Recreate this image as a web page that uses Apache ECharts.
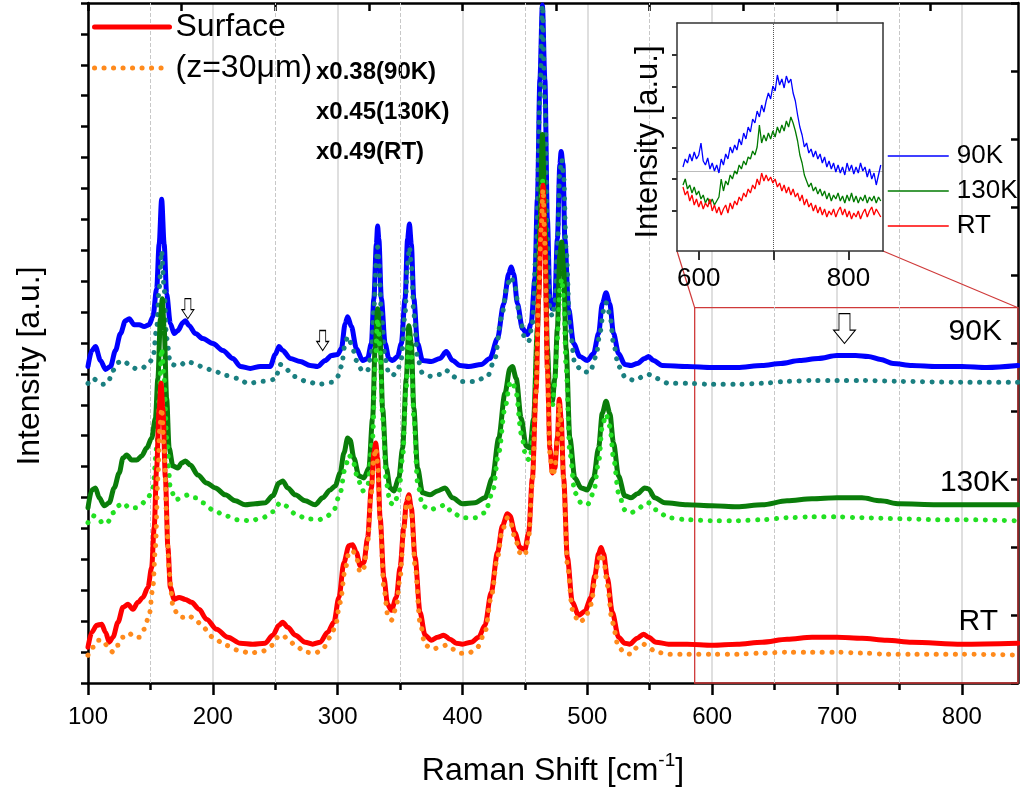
<!DOCTYPE html>
<html>
<head>
<meta charset="utf-8">
<title>Raman spectra</title>
<script src="https://cdn.jsdelivr.net/npm/echarts@6/dist/echarts.min.js"></script>
<style>
  html, body { margin: 0; padding: 0; background: #fff; }
  #main { width: 1020px; height: 792px; }
</style>
</head>
<body>
<div id="main"></div>
<script>
// Raman spectra, intensity in a.u. (stacked offsets as in the figure)
var surface90K = [[100,318],[103,334],[106,338],[110,324],[114,315],[118,318],[122,334],[126,351],[130,364],[133,366],[137,360],[141,360],[145,358],[149,360],[152,368],[155,396],[157,441],[159,486],[161,441],[163,391],[166,361],[169,351],[172,354],[176,362],[178,364],[181,359],[186,351],[192,346],[200,341],[208,334],[216,326],[222,318],[230,316],[238,318],[246,318],[250,330],[253,338],[256,334],[262,326],[270,323],[278,319],[284,318],[290,324],[295,329],[300,330],[303,336],[306,361],[308,368],[311,358],[315,336],[320,324],[324,326],[327,341],[329,386],[331,441],[332,459],[333,446],[335,386],[338,341],[341,326],[344,324],[348,328],[351,341],[354,386],[356,446],[357.5,461],[359,441],[361,386],[364,341],[368,324],[375,323],[382,326],[387,333],[392,324],[398,319],[405,318],[415,320],[422,326],[428,346],[433,381],[437,411],[439,418],[441,411],[444,381],[448,356],[452,350],[455,361],[458,406],[460,486],[462,606],[464,681],[466,606],[468,466],[470,386],[472,376],[474,386],[476,446],[478,521],[479,534],[480.5,521],[482,446],[485,376],[489,341],[494,328],[500,324],[505,331],[509,351],[512,381],[515,392],[518,381],[521,351],[525,331],[530,320],[535,319],[540,321],[546,326],[549,328],[553,324],[560,319],[580,318],[600,317],[620,317],[640,319],[655,321],[670,324],[685,326],[700,329],[715,329],[725,328],[735,325],[745,321],[760,319],[780,318],[800,318],[820,317],[845,319]];
var depth90K = [[100,301],[104,306],[108,303],[112,300],[116,302],[120,314],[124,322],[128,324],[133,320],[138,316],[143,316],[148,320],[152,326],[155,356],[157,396],[159,434],[161,396],[163,346],[166,321],[170,319],[175,320],[178,323],[182,322],[188,319],[194,316],[200,314],[210,309],[220,306],[228,301],[240,303],[250,305],[254,320],[258,316],[265,308],[275,303],[285,300],[295,302],[300,308],[303,318],[306,341],[308,348],[311,341],[315,324],[320,313],[324,314],[327,331],[329,376],[331,426],[332,438],[333,426],[335,371],[338,326],[341,311],[344,309],[348,314],[351,326],[354,371],[356,421],[357.5,438],[359,421],[361,371],[364,326],[368,311],[375,308],[382,310],[387,314],[392,308],[400,303],[410,303],[420,308],[426,326],[431,366],[436,401],[439,408],[442,398],[446,366],[450,346],[453,343],[456,361],[459,436],[462,586],[464,681],[466,586],[468,446],[470,376],[472,368],[474,381],[476,436],[478,514],[479.5,526],[481,511],[483,436],[486,356],[490,321],[496,313],[502,312],[507,328],[510,351],[513,374],[515,382],[518,371],[521,341],[525,318],[531,306],[538,304],[545,308],[549,310],[555,306],[565,301],[580,301],[600,300],[620,300],[640,301],[660,303],[680,304],[700,304],[720,304],[750,303],[800,302],[845,302]];
var surface130K = [[100,176],[103,194],[106,196],[109,186],[113,178],[117,181],[121,196],[125,211],[128,226],[131,229],[135,224],[139,224],[143,228],[147,236],[151,246],[154,266],[156,306],[158,366],[159.5,386],[161,356],[163,286],[165,236],[168,218],[172,216],[175,221],[178,223],[182,219],[188,209],[195,201],[202,196],[210,189],[218,183],[226,179],[234,180],[242,181],[248,188],[253,201],[256,203],[260,196],[266,189],[274,183],[282,179],[288,186],[294,194],[298,198],[302,211],[305,231],[308,246],[310,244],[313,226],[317,208],[321,206],[325,216],[328,266],[330,336],[332,376],[334,346],[336,276],[339,216],[342,196],[345,193],[349,206],[352,236],[355,306],[357,359],[359,341],[361,276],[364,216],[368,191],[374,189],[380,193],[386,196],[392,186],[400,180],[410,181],[418,186],[424,206],[429,246],[434,291],[438,316],[440,318],[443,306],[447,266],[451,238],[454,236],[457,266],[460,356],[462,456],[464,551],[466,466],[468,336],[470,286],[472,283],[474,306],[476,356],[478,431],[479.5,443],[481,416],[483,336],[486,246],[490,206],[495,196],[500,194],[505,206],[509,236],[512,271],[515,283],[518,271],[521,241],[525,208],[530,188],[535,186],[540,190],[546,196],[549,195],[554,186],[562,181],[580,179],[600,178],[620,177],[640,179],[660,183],[680,185],[700,186],[720,186],[735,183],[750,180],[780,179],[800,179],[845,179]];
var depth130K = [[100,161],[104,168],[108,166],[112,160],[116,162],[120,171],[124,178],[128,181],[133,176],[138,176],[143,180],[148,186],[152,196],[155,236],[157,286],[159,336],[161,306],[163,246],[166,196],[170,184],[175,186],[180,189],[186,186],[192,181],[200,174],[210,168],[220,164],[230,163],[240,166],[248,172],[254,181],[258,178],[266,170],[275,165],[285,164],[292,168],[297,174],[302,191],[306,216],[309,229],[312,224],[316,206],[320,193],[324,198],[328,246],[330,316],[332,366],[334,336],[336,266],[339,201],[342,181],[345,179],[349,191],[352,226],[355,296],[357,351],[359,331],[361,266],[364,201],[368,178],[374,174],[380,176],[386,179],[392,171],[400,166],[410,166],[418,171],[424,191],[429,231],[434,276],[438,301],[440,303],[443,291],[447,251],[451,226],[454,224],[457,256],[460,356],[462,446],[464,506],[466,446],[468,326],[470,281],[472,278],[474,301],[476,346],[478,396],[479.5,406],[481,386],[483,316],[486,231],[490,191],[495,181],[500,179],[505,191],[509,221],[512,258],[515,270],[518,258],[521,226],[525,191],[530,174],[535,171],[540,174],[546,180],[549,181],[555,174],[565,166],[580,164],[600,163],[620,163],[640,164],[660,166],[680,167],[700,167],[720,166],[750,165],[780,164],[800,164],[845,163]];
var surfaceRT = [[100,36],[103,51],[107,58],[111,59],[114,51],[117,41],[120,46],[124,61],[128,76],[132,79],[136,74],[140,81],[144,86],[148,96],[151,116],[153,156],[155,216],[157,276],[158.5,301],[160,276],[162,206],[164,136],[166,96],[169,84],[173,86],[178,84],[183,81],[189,74],[195,64],[203,54],[212,46],[222,40],[232,39],[242,40],[248,48],[253,58],[256,61],[260,56],[266,48],[274,41],[280,39],[286,41],[292,51],[297,61],[301,86],[305,121],[309,138],[312,139],[315,131],[318,118],[321,121],[324,146],[327,196],[329,231],[330.5,241],[332,226],[334,166],[337,106],[340,79],[343,73],[347,86],[350,116],[353,156],[355,181],[357,189],[359,176],[362,126],[366,71],[370,48],[375,43],[380,46],[385,48],[390,44],[395,40],[400,39],[407,41],[413,46],[418,58],[423,91],[428,131],[432,158],[436,170],[438,168],[442,151],[446,136],[450,134],[453,151],[456,206],[459,296],[461,386],[463,456],[464.5,500],[466,446],[468,316],[470,236],[472,211],[474,216],[476,246],[477.5,285],[479,266],[481,206],[484,126],[488,81],[493,68],[498,72],[503,86],[506,108],[509,130],[511,136],[513,130],[516,106],[520,71],[525,46],[530,40],[534,39],[540,45],[545,49],[549,46],[555,41],[565,39],[580,39],[600,38],[620,39],[640,41],[660,44],[680,46],[700,46],[720,45],[740,43],[760,41],[800,39],[845,40]];
var depthRT = [[100,28],[104,36],[108,43],[112,43],[116,36],[120,31],[124,38],[128,46],[133,50],[137,46],[141,46],[145,54],[149,68],[152,96],[154,136],[156,206],[157.5,256],[159,276],[161,236],[163,166],[165,111],[168,78],[172,68],[176,66],[180,68],[186,64],[192,56],[200,46],[210,38],[220,33],[230,30],[240,32],[248,38],[252,46],[256,48],[260,44],[266,38],[274,31],[282,30],[288,34],[294,46],[298,56],[302,81],[306,114],[309,131],[312,133],[315,126],[318,111],[321,116],[324,141],[327,191],[329,226],[330.5,236],[332,221],[334,161],[337,96],[340,69],[343,63],[347,76],[350,106],[353,151],[355,178],[357,186],[359,171],[362,118],[366,61],[370,38],[376,34],[382,36],[387,38],[392,34],[398,30],[405,30],[412,36],[418,51],[423,86],[428,126],[432,154],[436,166],[438,164],[442,146],[446,131],[450,128],[453,146],[456,201],[459,291],[461,386],[463,456],[464.5,496],[466,441],[468,311],[470,231],[472,208],[474,214],[476,244],[477.5,281],[479,261],[481,201],[484,119],[488,74],[493,61],[498,64],[503,79],[506,101],[509,124],[511,130],[513,124],[516,98],[520,61],[525,36],[530,30],[535,29],[540,36],[545,39],[549,36],[555,31],[565,29],[580,29],[600,29],[620,29],[640,30],[660,31],[680,31],[700,31],[720,30],[740,29],[760,29],[800,29],[845,28]];

// inset: 580-845 cm-1 region, enlarged
var insetShift = [579,582,585,588,591,594,597,600,603,606,609,612,615,618,621,624,627,630,633,636,639,642,645,648,651,654,657,660,663,666,669,672,675,678,681,684,687,690,693,696,699,702,705,708,711,714,717,720,723,726,729,732,735,738,741,744,747,750,753,756,759,762,765,768,771,774,777,780,783,786,789,792,795,798,801,804,807,810,813,816,819,822,825,828,831,834,837,840,843];
var inset90K = [84,92,88,97,90,99,92,96,108,90,86,93,82,88,80,86,78,92,86,97,92,104,98,106,101,112,106,118,112,124,119,132,128,140,134,146,139,150,158,152,165,160,176,166,172,163,175,168,172,158,150,136,124,116,104,108,98,102,94,100,92,97,88,94,84,90,82,88,79,86,78,84,76,88,80,86,77,84,78,88,80,84,74,82,72,78,66,76,86];
var inset130K = [66,72,62,66,58,64,56,60,52,56,48,53,47,52,46,50,54,72,60,70,66,76,72,80,77,86,82,90,86,94,92,100,96,104,126,108,116,110,118,112,120,114,124,118,126,120,130,124,134,128,120,110,96,88,76,70,64,68,60,64,57,62,55,60,52,58,50,56,52,58,50,55,48,56,50,58,49,55,48,54,50,56,48,54,50,55,48,54,50];
var insetRT = [64,56,60,50,56,46,52,44,50,42,48,44,52,40,46,38,44,36,42,46,38,48,42,50,46,54,50,58,54,62,58,66,62,72,66,78,70,76,70,74,68,72,64,68,60,66,58,64,56,62,54,58,50,56,46,52,44,48,40,46,38,44,36,42,34,40,36,42,34,40,44,36,42,34,40,32,38,34,40,32,38,42,34,40,44,36,42,38,34];

// ticks
var xMajorTicks = [100, 200, 300, 400, 500, 600, 700, 800];
var xMinorTicks = [150, 250, 350, 450, 550, 650, 750];
var xTopTicks = [100, 175, 250, 325, 400, 475, 550, 625, 700, 775];
var insetXTicks = [600, 700, 800];
var insetXLabels = [600, 800];
var insetYTicks = [40, 72, 103, 133, 164, 196];
var arrowMarks = [[180, 366], [288, 334], [706, 341]];
var zoomBox = { from: 586, to: 845, top: 377 };
var insetRange = { min: 571, max: 846 };

var FONT = "'Liberation Sans', Arial, Helvetica, sans-serif";

function zip(xs, ys) {
    var out = [];
    for (var i = 0; i < xs.length; i++) out.push([xs[i], ys[i]]);
    return out;
}

function mainLine(name, data, color, dotted) {
    return {
        name: name,
        type: 'line',
        xAxisIndex: 0,
        yAxisIndex: 0,
        data: data,
        symbol: 'none',
        smooth: 0.3,
        smoothMonotone: 'x',
        z: 2,
        lineStyle: dotted
            ? { color: color, width: 5, type: [0.1, 9.4], cap: 'round' }
            : { color: color, width: 5, cap: 'round', join: 'round' },
        itemStyle: { color: color }
    };
}

function insetLine(name, ys, color) {
    return {
        name: name,
        type: 'line',
        xAxisIndex: 3,
        yAxisIndex: 2,
        data: zip(insetShift, ys),
        symbol: 'none',
        z: 4,
        lineStyle: { color: color, width: 1.3 },
        itemStyle: { color: color }
    };
}

var chart = echarts.init(document.getElementById('main'));

var series = [
    mainLine('90K surface', surface90K, '#0000ff', false),
    mainLine('90K z=30μm', depth90K, '#1a7f80', true),
    mainLine('130K surface', surface130K, '#0a7d0a', false),
    mainLine('130K z=30μm', depth130K, '#22e022', true),
    mainLine('Surface', surfaceRT, '#ff0000', false),
    mainLine('(z=30μm)', depthRT, '#ff8a1c', true),
    insetLine('90K', inset90K, '#0000ff'),
    insetLine('130K', inset130K, '#007a00'),
    insetLine('RT', insetRT, '#ff0000')
];

// dashed grid lines at the half hundreds, hollow arrows on the 90K trace
series[0].markLine = {
    silent: true, z: 1, symbol: ['none', 'none'],
    label: { show: false },
    lineStyle: { color: '#c8c8c8', width: 1, type: 'dashed' },
    data: xMinorTicks.map(function (v) { return { xAxis: v }; })
};
series[0].markPoint = {
    silent: true,
    symbol: 'path://M3,0L9,0L9,11L12,11L6,20L0,11L3,11Z',
    symbolSize: [12, 20],
    symbolOffset: [0, '-50%'],
    label: { show: false },
    itemStyle: { color: '#fff', borderColor: '#000', borderWidth: 1 },
    data: arrowMarks.map(function (p, i) {
        var d = { coord: p };
        if (i === 2) d.symbolSize = [22, 30];
        return d;
    })
};
// zoomed region box
series[4].markArea = {
    silent: true,
    itemStyle: { color: 'rgba(0,0,0,0)', borderColor: '#cf3a3a', borderWidth: 1.3 },
    data: [[{ coord: [zoomBox.from, zoomBox.top] }, { coord: [zoomBox.to, 0] }]]
};
series[6].markLine = {
    silent: true, z: 3.9, symbol: ['none', 'none'],
    label: { show: false },
    data: [
        { xAxis: 700, lineStyle: { color: '#555', width: 1, type: 'dotted' } },
        { yAxis: 80, lineStyle: { color: '#bbb', width: 1, type: 'solid' } }
    ]
};

var option = {
    animation: false,
    backgroundColor: '#fff',
    textStyle: { fontFamily: FONT, color: '#000' },
    grid: [
        { left: 88, top: 3, right: 2, bottom: 106 },
        { left: 677, top: 23, width: 206, height: 228, show: true, backgroundColor: '#fff', borderWidth: 0, z: 3 }
    ],
    legend: [
        {
            data: ['Surface', '(z=30μm)'],
            orient: 'vertical', left: 92, top: 10, padding: 0,
            itemWidth: 75, itemHeight: 14, itemGap: 7,
            itemStyle: { opacity: 0 },
            lineStyle: { width: 5 },
            textStyle: { fontSize: 32, lineHeight: 34, color: '#000', padding: [0, 0, 0, 1] },
            selectedMode: false
        },
        {
            data: ['90K', '130K', 'RT'],
            orient: 'vertical', left: 887, top: 141, padding: 0,
            itemWidth: 61, itemHeight: 10, itemGap: 5,
            itemStyle: { opacity: 0 },
            lineStyle: { width: 1.5 },
            textStyle: { fontSize: 26, lineHeight: 30, color: '#000', padding: [0, 0, 0, 3] },
            selectedMode: false
        }
    ],
    xAxis: [
        {
            type: 'value', gridIndex: 0, position: 'bottom', min: 100, max: 845, interval: 100,
            axisLine: { onZero: false, lineStyle: { color: '#000', width: 2.5 } },
            axisTick: { customValues: xMajorTicks, length: 12, lineStyle: { color: '#000', width: 2.5 } },
            axisLabel: { customValues: xMajorTicks, fontSize: 24, color: '#000', margin: 22 },
            splitLine: { show: true, lineStyle: { color: '#d4d4d4', width: 1.5 } },
            name: 'Raman Shift [cm{sup|-1}]',
            nameLocation: 'middle', nameGap: 68,
            nameTextStyle: {
                fontSize: 32, color: '#000',
                rich: { sup: { fontSize: 19, verticalAlign: 'top', lineHeight: 40, color: '#000' } }
            }
        },
        {
            type: 'value', gridIndex: 0, position: 'top', min: 100, max: 845,
            axisLine: { onZero: false, lineStyle: { color: '#000', width: 2.5 } },
            axisTick: { customValues: xTopTicks, inside: true, length: 8, lineStyle: { color: '#000', width: 2.5 } },
            axisLabel: { show: false },
            splitLine: { show: false }
        },
        {
            type: 'value', gridIndex: 0, position: 'bottom', min: 100, max: 845,
            axisLine: { show: false, onZero: false },
            axisTick: { customValues: xMinorTicks, length: 7, lineStyle: { color: '#000', width: 2.5 } },
            axisLabel: { show: false },
            splitLine: { show: false }
        },
        {
            type: 'value', gridIndex: 1, position: 'bottom', min: insetRange.min, max: insetRange.max, z: 4,
            axisLine: { onZero: false, lineStyle: { color: '#333', width: 1.5 } },
            axisTick: { customValues: insetXTicks, length: 9, lineStyle: { color: '#333', width: 2 } },
            axisLabel: { customValues: insetXLabels, fontSize: 26, color: '#000', margin: 15 },
            splitLine: { show: false }
        },
        {
            type: 'value', gridIndex: 1, position: 'top', min: insetRange.min, max: insetRange.max, z: 4,
            axisLine: { onZero: false, lineStyle: { color: '#333', width: 1.5 } },
            axisTick: { show: false },
            axisLabel: { show: false },
            splitLine: { show: false }
        }
    ],
    yAxis: [
        {
            type: 'value', gridIndex: 0, position: 'left', min: 0, max: 683.1, interval: 31.05,
            axisLine: { onZero: false, lineStyle: { color: '#000', width: 2.5 } },
            axisTick: { length: 7, lineStyle: { color: '#000', width: 2.5 } },
            axisLabel: { show: false },
            splitLine: { show: false },
            name: 'Intensity [a.u.]', nameLocation: 'middle', nameGap: 42,
            nameTextStyle: { fontSize: 32, color: '#000', padding: [0, 46, 0, 0] }
        },
        {
            type: 'value', gridIndex: 0, position: 'right', min: 0, max: 683.1, interval: 68.31,
            axisLine: { onZero: false, lineStyle: { color: '#000', width: 2.5 } },
            axisTick: { inside: true, length: 7, lineStyle: { color: '#000', width: 2.5 } },
            axisLabel: { show: false },
            splitLine: { show: false }
        },
        {
            type: 'value', gridIndex: 1, position: 'left', min: 0, max: 228, z: 4,
            axisLine: { onZero: false, lineStyle: { color: '#333', width: 1.5 } },
            axisTick: { customValues: insetYTicks, length: 5, lineStyle: { color: '#333', width: 2 } },
            axisLabel: { show: false },
            splitLine: { show: false },
            name: 'Intensity [a.u.]', nameLocation: 'middle', nameGap: 13,
            nameTextStyle: { fontSize: 31, color: '#000', padding: [0, 10, 0, 0] }
        },
        {
            type: 'value', gridIndex: 1, position: 'right', min: 0, max: 228, z: 4,
            axisLine: { onZero: false, lineStyle: { color: '#333', width: 1.5 } },
            axisTick: { show: false },
            axisLabel: { show: false },
            splitLine: { show: false }
        }
    ],
    series: series
};

chart.setOption(option);

// connector lines from the boxed region to the inset, plus text notes
var boxTL = chart.convertToPixel({ xAxisIndex: 0, yAxisIndex: 0 }, [zoomBox.from, zoomBox.top]);
var boxTR = chart.convertToPixel({ xAxisIndex: 0, yAxisIndex: 0 }, [zoomBox.to, zoomBox.top]);
var insBL = chart.convertToPixel({ xAxisIndex: 3, yAxisIndex: 2 }, [insetRange.min, 0]);
var insBR = chart.convertToPixel({ xAxisIndex: 3, yAxisIndex: 2 }, [insetRange.max, 0]);

var noteStyle = { fontFamily: FONT, fontSize: 24, fontWeight: 'bold', fill: '#000', verticalAlign: 'middle' };
var tagStyle = { fontFamily: FONT, fontSize: 30, fill: '#000', align: 'right', verticalAlign: 'middle' };

chart.setOption({
    graphic: [
        { type: 'line', z: 2, silent: true, shape: { x1: insBL[0], y1: insBL[1], x2: boxTL[0], y2: boxTL[1] }, style: { stroke: '#cf3a3a', lineWidth: 1.2 } },
        { type: 'line', z: 2, silent: true, shape: { x1: insBR[0], y1: insBR[1], x2: boxTR[0], y2: boxTR[1] }, style: { stroke: '#cf3a3a', lineWidth: 1.2 } },
        { type: 'text', x: 316, y: 72, style: Object.assign({ text: 'x0.38(90K)' }, noteStyle) },
        { type: 'text', x: 316, y: 112, style: Object.assign({ text: 'x0.45(130K)' }, noteStyle) },
        { type: 'text', x: 316, y: 152, style: Object.assign({ text: 'x0.49(RT)' }, noteStyle) },
        { type: 'text', x: 1002, y: 332, style: Object.assign({ text: '90K' }, tagStyle) },
        { type: 'text', x: 1010, y: 483, style: Object.assign({ text: '130K' }, tagStyle) },
        { type: 'text', x: 998, y: 622, style: Object.assign({ text: 'RT' }, tagStyle) }
    ]
});
</script>
</body>
</html>
